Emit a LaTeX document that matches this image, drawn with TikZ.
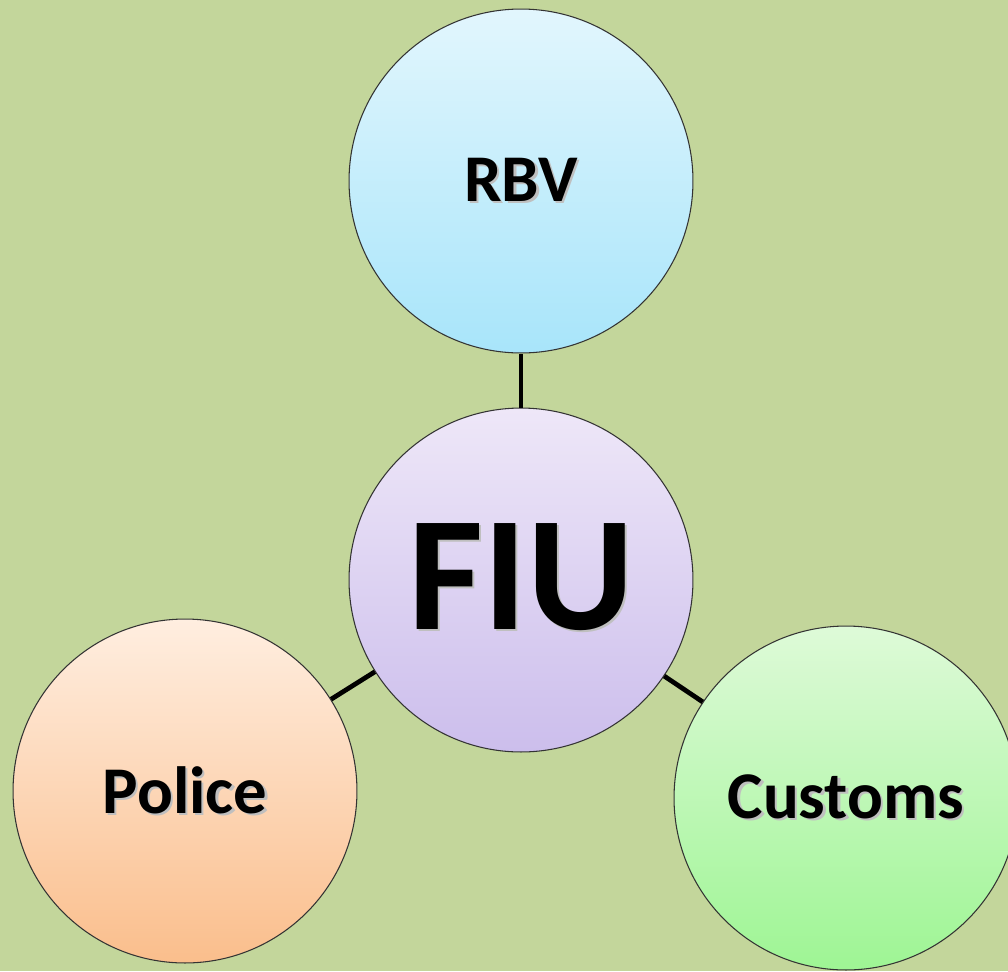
\documentclass[tikz,border=0pt]{standalone}
\usepackage{fontspec}
\setmainfont{Carlito}
\usetikzlibrary{calc}

\definecolor{bgGreen}{RGB}{195,214,155}
\definecolor{rbvTop}{RGB}{226,246,253}
\definecolor{rbvBot}{RGB}{168,229,250}
\definecolor{fiuTop}{RGB}{238,231,248}
\definecolor{fiuBot}{RGB}{204,190,236}
\definecolor{polTop}{RGB}{255,238,224}
\definecolor{polBot}{RGB}{250,190,140}
\definecolor{cusTop}{RGB}{222,250,216}
\definecolor{cusBot}{RGB}{158,245,148}

\newcommand{\shtext}[1]{\makebox[0pt][l]{\kern1.3pt\raisebox{-1.3pt}{\color{black!25}#1}}#1}

\tikzset{
  unit/.style={circle, draw=black!80, line width=0.6pt, minimum size=6.88cm,
    inner sep=0pt, font=\bfseries},
  link/.style={line width=2.7pt, black}
}

\begin{document}
\begin{tikzpicture}[x=0.02cm,y=-0.02cm]
  % Background
  \clip (0,0) rectangle (1008,971);
  \fill[bgGreen] (0,0) rectangle (1008,971);
  % Agencies
  \node[unit, top color=rbvTop, bottom color=rbvBot] (rbv) at (521,181)
    {\fontsize{38}{40}\selectfont\shtext{RBV}};
  \node[unit, top color=fiuTop, bottom color=fiuBot] (fiu) at (521,580)
    {\raisebox{4pt}{\fontsize{93}{96}\selectfont\shtext{FIU}}};
  \node[unit, top color=polTop, bottom color=polBot] (police) at (185,791)
    {\fontsize{38}{40}\selectfont\shtext{Police}};
  \node[unit, top color=cusTop, bottom color=cusBot] (customs) at (846,798)
    {\fontsize{38}{40}\selectfont\shtext{Customs}};
  % Links to FIU
  \draw[link] (rbv) -- (fiu);
  \draw[link] (fiu) -- (police);
  \draw[link] (fiu) -- (customs);
\end{tikzpicture}
\end{document}
